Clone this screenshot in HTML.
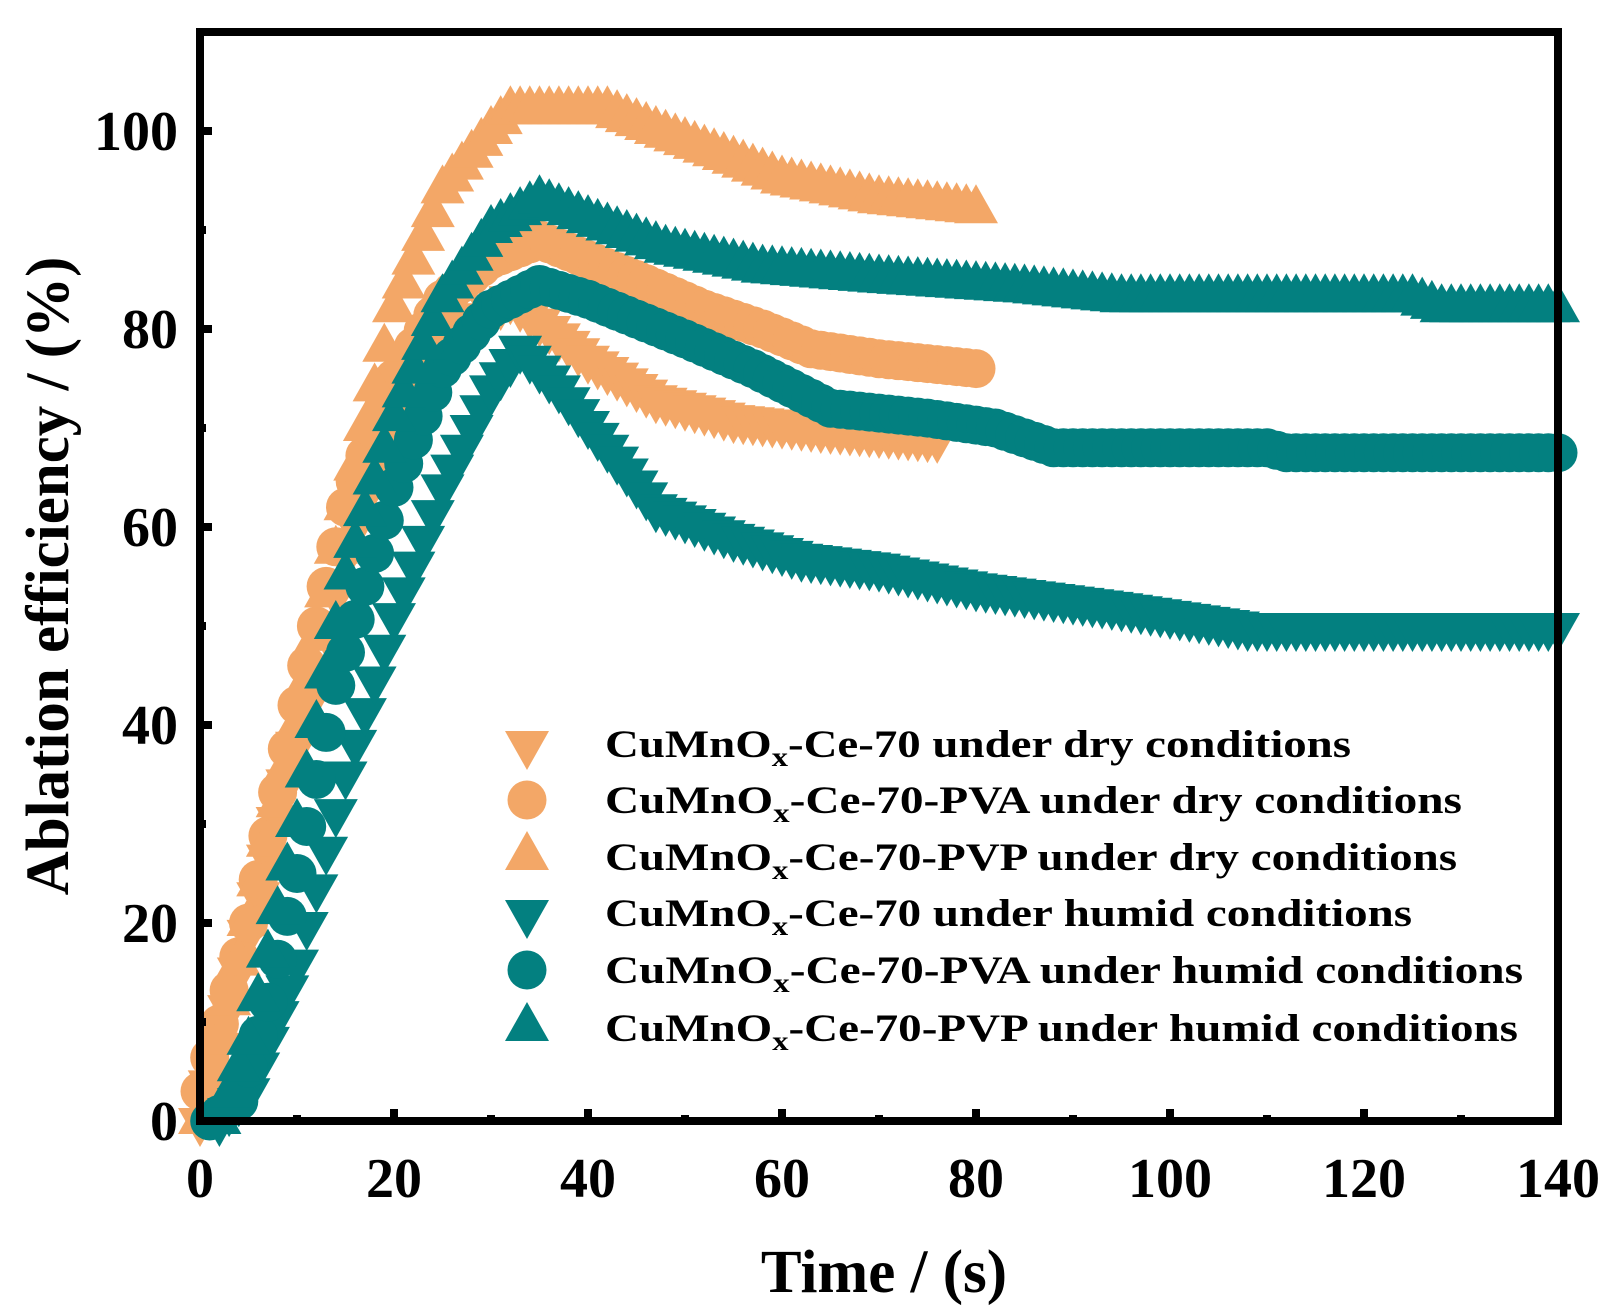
<!DOCTYPE html>
<html><head><meta charset="utf-8"><style>
html,body{margin:0;padding:0;background:#fff}
svg{display:block}
text{font-family:"Liberation Serif",serif;font-weight:bold;fill:#000}
</style></head><body>
<svg id="s" width="1619" height="1313" viewBox="0 0 1619 1313" xmlns="http://www.w3.org/2000/svg">
<g id="data"></g>
<rect x="200" y="32" width="1358" height="1089" fill="none" stroke="#000" stroke-width="8"/>
<g id="ticks" stroke="#000" stroke-width="8"></g>
<g id="labels" font-size="56"></g>
<text x="884" y="1292" font-size="61" text-anchor="middle">Time / (s)</text>
<text transform="translate(68,576) rotate(-90)" font-size="61" text-anchor="middle">Ablation efficiency / (%)</text>
<g id="legend"></g>
</svg>
<script>
var NS="http://www.w3.org/2000/svg";
function X(t){return 200+t*9.7}
function Y(v){return 1121-v*9.9}
function el(tag,attrs,parent){var e=document.createElementNS(NS,tag);for(var k in attrs)e.setAttribute(k,attrs[k]);parent.appendChild(e);return e}
var OR="#F3A767",TL="#038080";
function interp(k,t){for(var i=0;i<k.length-1;i++){if(t>=k[i][0]&&t<=k[i+1][0]){var f=(t-k[i][0])/(k[i+1][0]-k[i][0]);return k[i][1]+f*(k[i+1][1]-k[i][1]);}}return k[k.length-1][1]}
function marker(type,x,y,c,g){
 if(type=="c"){el("circle",{cx:x,cy:y,r:19.5,fill:c},g);}
 else if(type=="u"){el("polygon",{points:(x-22)+","+(y+13)+" "+(x+22)+","+(y+13)+" "+x+","+(y-26),fill:c},g);}
 else {el("polygon",{points:(x-22)+","+(y-13)+" "+(x+22)+","+(y-13)+" "+x+","+(y+26),fill:c},g);}
}
var series=[
 {t:"d",c:OR,end:76,k:[[0,0],[5,19],[10,38],[15,57],[20,72],[25,79],[32,83],[40,77],[47,73],[55,71],[64,70],[76,69]]},
 {t:"c",c:OR,end:80,k:[[0,3],[5,20],[10,42],[15,62],[20,75],[25,83],[30,87],[35,89],[40,87],[45,85],[52,82],[58,80],[63,78],[70,77],[80,76]]},
 {t:"u",c:OR,end:80,k:[[0,0],[5,20],[10,40],[15,62],[20,82],[25,94],[30,100],[32,102],[42,102],[47,100],[55,97],[60,95],[70,93],[80,92]]},
 {t:"d",c:TL,end:140,k:[[2,0],[5,3],[10,16],[15,35],[20,51],[25,64],[30,74],[33,78],[37,74],[42,68],[47,62],[55,59],[62,57],[70,56],[80,54],[95,52],[108,50],[140,50]]},
 {t:"c",c:TL,end:140,k:[[1,0],[4,2],[7,12],[10,25],[14,44],[17,54],[20,64],[25,76],[30,82],[35,84.5],[40,83],[45,81],[50,79],[57,76],[65,72],[75,71],[82,70],[88,68],[110,68],[112,67.5],[140,67.5]]},
 {t:"u",c:TL,end:140,k:[[2,0],[5,8],[10,30],[15,55],[20,71],[25,83],[30,90],[35,93],[40,91],[48,88],[58,86],[70,85],[85,84],[95,83],[125,83],[128,82],[140,82]]}
];
var dg=document.getElementById("data");
series.forEach(function(s){
 var start=s.k[0][0];
 for(var t=start;t<=s.end+0.01;t+=1){
  var v=interp(s.k,t);
  marker(s.t,X(t),Y(v),s.c,dg);
 }
});
var tg=document.getElementById("ticks"),lg=document.getElementById("labels");
for(var t=0;t<=140;t+=10){
 var len=(t%20==0)?12:6;
 el("line",{x1:X(t),y1:1121,x2:X(t),y2:1121-len},tg);
 if(t%20==0){var tx=el("text",{x:X(t),y:1197,"text-anchor":"middle"},lg);tx.textContent=t;}
}
for(var v=0;v<=110;v+=10){
 var len=(v%20==0)?12:6;
 if(Y(v)<36)continue;
 el("line",{x1:200,y1:Y(v),x2:200+len,y2:Y(v)},tg);
 if(v%20==0){var ty=el("text",{x:178,y:Y(v)+19,"text-anchor":"end"},lg);ty.textContent=v;}
}
var L=document.getElementById("legend");
var items=[["d",OR,"-Ce-70 under dry conditions",746],["c",OR,"-Ce-70-PVA under dry conditions",857],["u",OR,"-Ce-70-PVP under dry conditions",852],
["d",TL,"-Ce-70 under humid conditions",807],["c",TL,"-Ce-70-PVA under humid conditions",918],["u",TL,"-Ce-70-PVP under humid conditions",913]];
var ys=[744,800,857,913,970,1028];
items.forEach(function(it,i){
 marker(it[0],527,ys[i],it[1],L);
 var tx=el("text",{x:605,y:ys[i]+13,"font-size":"39",textLength:it[3],lengthAdjust:"spacingAndGlyphs"},L);
 var a=el("tspan",{},tx);a.textContent="CuMnO";
 var b=el("tspan",{dy:"9","font-size":"27"},tx);b.textContent="x";
 var c=el("tspan",{dy:"-9"},tx);c.textContent=it[2];
});
</script>
</body></html>
